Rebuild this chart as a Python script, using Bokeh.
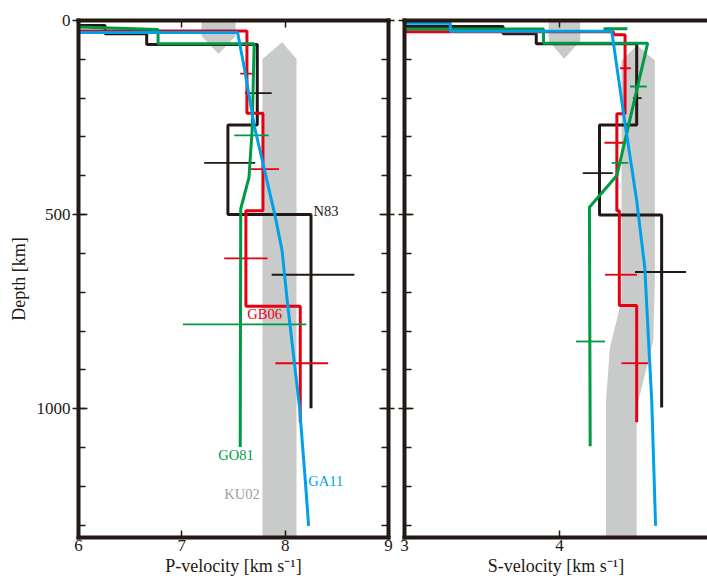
from bokeh.plotting import figure
from bokeh.models import Range1d, LinearAxis, FixedTicker
from bokeh.layouts import row
from bokeh.core.properties import value
from bokeh.embed import file_html
from bokeh.resources import INLINE

# ---------------- data ----------------
DEPTH_MAX = 1332
depth_ticks = [0, 500, 1000]
depth_minor = list(range(100, 1400, 100))
p_ticks = [6, 7, 8, 9]
s_ticks = [3, 4, 5]

# P-velocity profiles (vertices, km/s and km)
P_N83_v = [5.5, 6.257, 6.257, 6.66, 6.66, 7.73, 7.73, 7.446, 7.446, 8.25, 8.25]
P_N83_d = [13, 13, 34, 34, 62, 62, 269, 269, 500, 500, 999]
P_GB06_v = [5.5, 7.63, 7.63, 7.785, 7.785, 7.62, 7.62, 8.146, 8.146]
P_GB06_d = [27, 27, 239, 239, 490, 490, 736, 736, 1035]
P_GO81_v = [6.0, 6.77, 6.77, 7.70, 7.68, 7.65, 7.57, 7.565]
P_GO81_d = [17, 23, 60, 60, 284, 404, 485, 1099]
P_GA11_v = [5.5, 7.54, 7.61, 7.70, 7.90, 7.97, 8.02, 8.14, 8.195, 8.227]
P_GA11_d = [31, 31, 130, 270, 500, 593, 722, 999, 1186, 1302]

# P error bars
P_N83_err_d = [187, 367, 655]
P_N83_err_lo = [7.61, 7.216, 7.87]
P_N83_err_hi = [7.87, 7.71, 8.67]
P_GB06_err_d = [137, 383, 613, 883]
P_GB06_err_lo = [7.565, 7.66, 7.41, 7.905]
P_GB06_err_hi = [7.69, 7.94, 7.83, 8.415]
P_GO81_err_d = [296, 783]
P_GO81_err_lo = [7.507, 7.01]
P_GO81_err_hi = [7.84, 8.205]

# KU02 P ranges (polygons)
KU02_P_top_v = [7.19, 7.52, 7.52, 7.355, 7.19]
KU02_P_top_d = [0, 0, 40, 86, 40]
KU02_P_v = [7.97, 8.11, 8.11, 7.78, 7.78]
KU02_P_d = [56, 99, 1332, 1332, 99]

# S-velocity profiles
S_N83_v = [2.5, 3.636, 3.636, 3.85, 3.85, 4.498, 4.498, 4.258, 4.258, 4.659, 4.659]
S_N83_d = [15.5, 15.5, 34, 34, 60, 60, 269, 269, 501, 501, 997]
S_GB06_v = [2.5, 4.348, 4.348, 4.423, 4.423, 4.37, 4.37, 4.386, 4.386, 4.498, 4.498]
S_GB06_d = [29, 29, 37, 37, 240, 240, 490, 490, 734, 734, 1035]
S_GO81_v = [2.5, 3.897, 3.897, 4.569, 4.37, 4.193, 4.198]
S_GO81_d = [22, 22, 58.5, 58.5, 399.5, 481, 1097]
S_GO81_top_v = [4.284, 4.438]
S_GO81_top_d = [21, 21]
S_GA11_v = [3.0, 3.296, 3.296, 4.337, 4.42, 4.498, 4.55, 4.595, 4.62]
S_GA11_d = [7, 7, 27.6, 27.6, 258, 464, 636, 979, 1302]

# S error bars
S_N83_err_d = [200, 393, 648]
S_N83_err_lo = [4.473, 4.15, 4.487]
S_N83_err_hi = [4.53, 4.344, 4.816]
S_GB06_err_d = [123, 315, 655, 883]
S_GB06_err_lo = [4.39, 4.29, 4.294, 4.40]
S_GB06_err_hi = [4.46, 4.42, 4.50, 4.573]
S_GO81_err_d = [170, 367, 827]
S_GO81_err_lo = [4.455, 4.337, 4.106]
S_GO81_err_hi = [4.563, 4.444, 4.294]

# KU02 S ranges
KU02_S_top_v = [3.93, 4.134, 4.134, 4.03, 3.93]
KU02_S_top_d = [0, 0, 52, 99, 52]
KU02_S_v = [4.50, 4.615, 4.615, 4.605, 4.498, 4.498, 4.30, 4.30, 4.325, 4.40, 4.40]
KU02_S_d = [64, 103, 670, 825, 997, 1332, 1332, 980, 843, 722, 103]

# model labels (left panel)
label_names = ["N83", "GB06", "GO81", "GA11", "KU02"]
label_v = [8.275, 7.633, 7.352, 8.224, 7.41]
label_d = [490, 755, 1119, 1186, 1219]

# ---------------- style ----------------
BLACK = "#231815"
RED = "#e60012"
GREEN = "#009944"
BLUE = "#00a0e9"
GRAY = "#c9caca"
LABEL_COLORS = [BLACK, RED, GREEN, BLUE, "#9fa0a0"]
FONT = "Liberation Serif"
LW = 3
EW = 1.8


def style_axis(ax, labels=True, major_in=9, major_out=6, minor_in=7):
    ax.axis_line_color = BLACK
    ax.axis_line_width = 4
    ax.axis_line_cap = "square"
    ax.major_tick_line_color = BLACK
    ax.major_tick_line_width = 1.5
    ax.minor_tick_line_color = BLACK
    ax.minor_tick_line_width = 1.5
    ax.major_tick_in = major_in
    ax.major_tick_out = major_out
    ax.minor_tick_in = minor_in
    ax.minor_tick_out = 0
    ax.major_label_text_font = FONT
    ax.major_label_text_color = BLACK
    ax.axis_label_text_font = FONT
    ax.axis_label_text_font_style = "normal"
    ax.axis_label_text_color = BLACK
    ax.axis_label_text_font_size = "18px"
    ax.major_label_standoff = 2
    if labels:
        ax.major_label_text_font_size = "17px"
    else:
        # mirrored axis: ticks only, labels not drawn
        ax.major_label_text_font_size = "1px"
        ax.major_label_text_color = None
        ax.major_label_standoff = 0


def make_fig(width, x_range, min_left, min_right):
    p = figure(width=width, height=578, x_range=x_range,
               y_range=Range1d(DEPTH_MAX, 0),
               output_backend="svg", toolbar_location=None,
               x_axis_location=None, y_axis_location=None,
               min_border_left=min_left, min_border_right=min_right,
               min_border_top=20, min_border_bottom=41)
    p.outline_line_color = None
    p.background_fill_color = "white"
    p.border_fill_color = "white"
    for g in p.grid:
        g.visible = False
    return p


def ticker_y():
    return FixedTicker(ticks=depth_ticks, minor_ticks=depth_minor)


# ---------------- left panel ----------------
p1 = make_fig(396, Range1d(6, 9), 78, 8)

ly = LinearAxis(ticker=ticker_y(), axis_label="Depth [km]")
style_axis(ly)
ly.axis_label_standoff = 5
p1.add_layout(ly, "left")
ry = LinearAxis(ticker=ticker_y())
style_axis(ry, labels=False)
p1.add_layout(ry, "right")
bx = LinearAxis(ticker=FixedTicker(ticks=p_ticks), axis_label="P-velocity [km s\u207b\u00b9]")
style_axis(bx, major_in=7, major_out=0)
bx.major_label_standoff = 2
bx.axis_label_standoff = 2
p1.add_layout(bx, "below")
tx = LinearAxis(ticker=FixedTicker(ticks=p_ticks))
style_axis(tx, labels=False, major_in=7, major_out=0)
p1.add_layout(tx, "above")

p1.patch(KU02_P_top_v, KU02_P_top_d, fill_color=GRAY, line_color=None)
p1.patch(KU02_P_v, KU02_P_d, fill_color=GRAY, line_color=None)

p1.line(P_N83_v, P_N83_d, line_color=BLACK, line_width=LW)
p1.segment(P_N83_err_lo, P_N83_err_d, P_N83_err_hi, P_N83_err_d, line_color=BLACK, line_width=EW)
p1.line(P_GB06_v, P_GB06_d, line_color=RED, line_width=LW)
p1.segment(P_GB06_err_lo, P_GB06_err_d, P_GB06_err_hi, P_GB06_err_d, line_color=RED, line_width=EW)
p1.line(P_GO81_v, P_GO81_d, line_color=GREEN, line_width=LW)
p1.segment(P_GO81_err_lo, P_GO81_err_d, P_GO81_err_hi, P_GO81_err_d, line_color=GREEN, line_width=EW)
p1.line(P_GA11_v, P_GA11_d, line_color=BLUE, line_width=LW)

p1.text(x=label_v, y=label_d, text=label_names, text_color=LABEL_COLORS,
        text_font=value(FONT), text_font_size="14.5px", text_baseline="middle",
        text_align="left")

# ---------------- right panel ----------------
S_END = 3 + 303 / 155.0
p2 = make_fig(311, Range1d(3, S_END), 8, 0)

ly2 = LinearAxis(ticker=ticker_y())
style_axis(ly2, labels=False)
p2.add_layout(ly2, "left")
bx2 = LinearAxis(ticker=FixedTicker(ticks=s_ticks), axis_label="S-velocity [km s\u207b\u00b9]")
style_axis(bx2, major_in=7, major_out=0)
bx2.major_label_standoff = 2
bx2.axis_label_standoff = 2
p2.add_layout(bx2, "below")
tx2 = LinearAxis(ticker=FixedTicker(ticks=s_ticks))
style_axis(tx2, labels=False, major_in=7, major_out=0)
p2.add_layout(tx2, "above")

p2.patch(KU02_S_top_v, KU02_S_top_d, fill_color=GRAY, line_color=None)
p2.patch(KU02_S_v, KU02_S_d, fill_color=GRAY, line_color=None)

p2.line(S_N83_v, S_N83_d, line_color=BLACK, line_width=LW)
p2.segment(S_N83_err_lo, S_N83_err_d, S_N83_err_hi, S_N83_err_d, line_color=BLACK, line_width=EW)
p2.line(S_GB06_v, S_GB06_d, line_color=RED, line_width=LW)
p2.segment(S_GB06_err_lo, S_GB06_err_d, S_GB06_err_hi, S_GB06_err_d, line_color=RED, line_width=EW)
p2.line(S_GO81_v, S_GO81_d, line_color=GREEN, line_width=LW)
p2.line(S_GO81_top_v, S_GO81_top_d, line_color=GREEN, line_width=LW)
p2.segment(S_GO81_err_lo, S_GO81_err_d, S_GO81_err_hi, S_GO81_err_d, line_color=GREEN, line_width=EW)
p2.line(S_GA11_v, S_GA11_d, line_color=BLUE, line_width=LW)

layout = row(p1, p2)
open("out.html", "w").write(file_html(layout, INLINE))
